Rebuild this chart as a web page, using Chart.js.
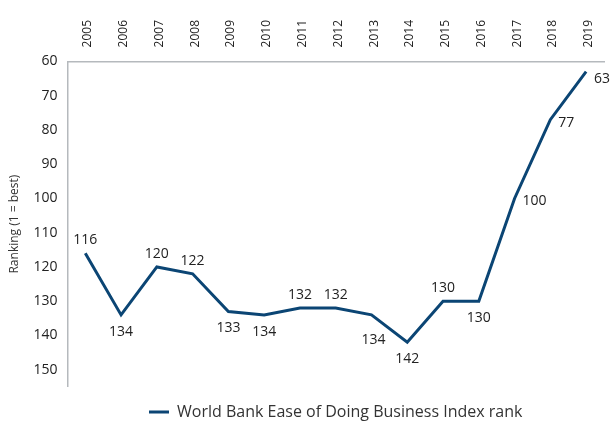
<!DOCTYPE html>
<html>
<head>
<meta charset="utf-8">
<script src="https://cdn.jsdelivr.net/npm/chart.js@4"></script>
<style>
  html, body { margin: 0; padding: 0; background: #fff; }
  #wrap { width: 610px; height: 423px; position: relative; }
</style>
</head>
<body>
<div id="wrap"><canvas id="rankChart"></canvas></div>
<script>
// Data
const years = ['2005', '2006', '2007', '2008', '2009', '2010', '2011', '2012', '2013', '2014', '2015', '2016', '2017', '2018', '2019'];
const ranks = [116, 134, 120, 122, 133, 134, 132, 132, 134, 142, 130, 130, 100, 77, 63];
const yTicks = [60, 70, 80, 90, 100, 110, 120, 130, 140, 150];
const seriesName = 'World Bank Ease of Doing Business Index rank';

// where each value label sits relative to its point
const labelSpots = ['above', 'below', 'above', 'above', 'below', 'below', 'above', 'above', 'belowFar', 'below', 'above', 'below', 'right', 'right', 'rightLow'];

const navy = '#0b4574';
const textColor = '#222';
const fontFamily = "'Open Sans', 'Noto Sans', sans-serif";

// Simple value labels drawn next to each point
const valueLabels = {
    id: 'valueLabels',
    afterDatasetsDraw(chart) {
        const ctx = chart.ctx;
        const meta = chart.getDatasetMeta(0);
        ctx.save();
        ctx.font = '14px ' + fontFamily;
        ctx.fillStyle = textColor;
        ctx.textBaseline = 'middle';
        meta.data.forEach((pt, i) => {
            const txt = String(ranks[i]);
            let x = pt.x, y = pt.y;
            ctx.textAlign = 'center';
            const spot = labelSpots[i];
            if (spot === 'above') y -= 13;
            else if (spot === 'below') y += 17;
            else if (spot === 'belowFar') { y += 25; x += 2; }
            else if (spot === 'right') { ctx.textAlign = 'left'; x += 8; y += 3; }
            else if (spot === 'rightLow') { ctx.textAlign = 'left'; x += 8; y += 7; }
            ctx.fillText(txt, x, y);
        });
        ctx.restore();
    }
};

const ctx = document.getElementById('rankChart').getContext('2d');
const rankChart = new Chart(ctx, {
    type: 'line',
    data: {
        labels: years,
        datasets: [{
            label: seriesName,
            data: ranks,
            borderColor: navy,
            backgroundColor: navy,
            borderWidth: 3,
            pointRadius: 0,
            tension: 0,
            fill: false
        }]
    },
    options: {
        responsive: true,
        maintainAspectRatio: false,
        animation: false,
        layout: { padding: { top: 6, right: 6, left: 7, bottom: -7 } },
        scales: {
            x: {
                position: 'top',
                offset: true,
                grid: { display: false, drawTicks: false },
                border: { display: true, color: '#b5b9bd', width: 1.5 },
                ticks: {
                    color: textColor,
                    font: { family: fontFamily, size: 12 },
                    minRotation: 90,
                    maxRotation: 90,
                    labelOffset: 17,
                    padding: 14
                }
            },
            y: {
                reverse: true,
                min: 60,
                max: 155,
                afterBuildTicks(axis) {
                    axis.ticks = yTicks.map(v => ({ value: v }));
                },
                grid: { display: false, drawTicks: false },
                border: { display: true, color: '#b5b9bd', width: 1.5 },
                ticks: {
                    color: textColor,
                    font: { family: fontFamily, size: 14 },
                    padding: 10
                },
                title: {
                    display: true,
                    text: 'Ranking (1 = best)',
                    color: '#333',
                    font: { family: fontFamily, size: 12 },
                    padding: { top: 0, bottom: 2 }
                }
            }
        },
        plugins: {
            legend: {
                position: 'bottom',
                fullSize: false,
                title: {
                    display: true,
                    text: '',
                    font: { size: 1 },
                    padding: { top: 16, bottom: 0 }
                },
                labels: {
                    color: '#333',
                    font: { family: fontFamily, size: 16 },
                    boxWidth: 20,
                    boxHeight: 3,
                    padding: 0,
                    generateLabels(chart) {
                        return chart.data.datasets.map((ds, i) => ({
                            text: ds.label,
                            fillStyle: ds.borderColor,
                            strokeStyle: ds.borderColor,
                            lineWidth: 0,
                            datasetIndex: i,
                            fontColor: '#333'
                        }));
                    }
                }
            },
            tooltip: { enabled: false }
        }
    },
    plugins: [valueLabels]
});
</script>
</body>
</html>
